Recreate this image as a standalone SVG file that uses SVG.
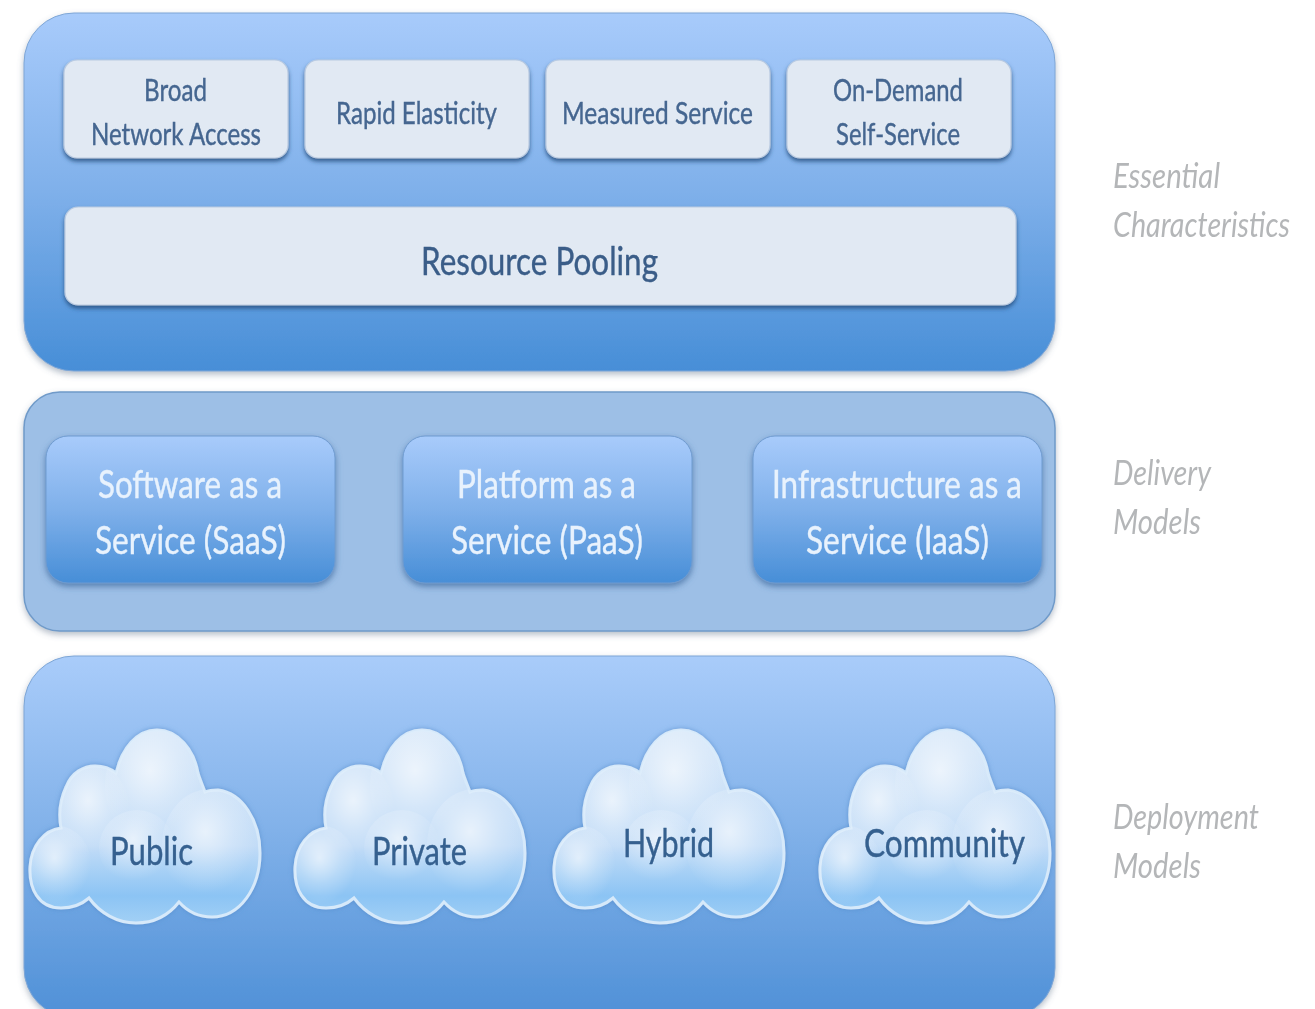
<svg xmlns="http://www.w3.org/2000/svg" xmlns:xlink="http://www.w3.org/1999/xlink" width="1315" height="1009" viewBox="0 0 1315 1009">
<style>
text{font-family:"Lato","Liberation Sans",sans-serif;filter:url(#soft)}
.small{font-size:31px;fill:#456690;stroke:#456690;stroke-width:.4}
.pool{font-size:38px;fill:#3a5d88;stroke:#3a5d88;stroke-width:.4}
.svc{font-size:39px;fill:#e8f2fd;stroke:#e8f2fd;stroke-width:.4}
.cl{font-size:39px;fill:#35608f;stroke:#35608f;stroke-width:.4}
.side{font-size:35px;font-style:italic;fill:#b4b6b8}
.card{fill:#e1e9f3;stroke:#b9cbe2;stroke-width:1.2;filter:url(#cardShadow)}
.svcbox{fill:url(#blue);stroke:#6f9bd0;stroke-width:1;filter:url(#svcShadow)}
.panel{filter:url(#panelShadow)}
</style>
<defs>
<linearGradient id="blue" x1="0" y1="0" x2="0" y2="1"><stop offset="0" stop-color="#a8cbfb"/><stop offset=".5" stop-color="#7fb0ea"/><stop offset="1" stop-color="#478ed7"/></linearGradient>
<linearGradient id="blue3" x1="0" y1="0" x2="0" y2="1"><stop offset="0" stop-color="#a9ccfa"/><stop offset=".45" stop-color="#84b3ea"/><stop offset="1" stop-color="#4f90d7"/></linearGradient>
<linearGradient id="cloudBody" x1="0" y1="0" x2="0" y2="1"><stop offset="0" stop-color="#d8e8f9"/><stop offset=".6" stop-color="#c2dcf7"/><stop offset=".86" stop-color="#8cc4f4"/><stop offset="1" stop-color="#a2d0f5"/></linearGradient>
<radialGradient id="lump" cx=".45" cy=".38" r=".55"><stop offset="0" stop-color="#fff" stop-opacity=".6"/><stop offset=".55" stop-color="#fff" stop-opacity=".22"/><stop offset="1" stop-color="#fff" stop-opacity="0"/></radialGradient>
<filter id="soft" x="-5%" y="-10%" width="110%" height="120%"><feGaussianBlur stdDeviation=".45"/></filter>
<filter id="panelShadow" x="-3%" y="-5%" width="106%" height="112%"><feDropShadow dx="0" dy="3" stdDeviation="3" flood-color="#5a6f88" flood-opacity=".45"/></filter>
<filter id="cardShadow" x="-5%" y="-10%" width="110%" height="125%"><feDropShadow dx="0" dy="3" stdDeviation="2" flood-color="#26507f" flood-opacity=".85"/></filter>
<filter id="svcShadow" x="-5%" y="-5%" width="110%" height="115%"><feDropShadow dx="0" dy="3" stdDeviation="3" flood-color="#38659a" flood-opacity=".7"/></filter>
<filter id="cloudShadow" x="-8%" y="-8%" width="116%" height="116%"><feDropShadow dx="0" dy="0" stdDeviation="2.5" flood-color="#4f88c8" flood-opacity=".7"/></filter>
<filter id="lumpBlur" x="-20%" y="-20%" width="140%" height="140%"><feGaussianBlur stdDeviation="1.5"/></filter>
<clipPath id="cloudClip"><path d="M61 908C38 908 29 888 30 867C31 846 44 830 61 828C58 812 60 800 66 787C72 772 84 766 95 766C104 766 111 769 116 773C122 748 137 730 157 730C178 730 194 750 198 773C200 780 203 786 205 792C210 790 213 790 218 790C242 793 260 820 260 853C260 888 240 917 212 917C198 917 187 911 179 902C168 916 153 923 136 923C117 923 100 913 89 898C81 905 71 908 61 908Z"/></clipPath>
<g id="cloud">
<path d="M61 908C38 908 29 888 30 867C31 846 44 830 61 828C58 812 60 800 66 787C72 772 84 766 95 766C104 766 111 769 116 773C122 748 137 730 157 730C178 730 194 750 198 773C200 780 203 786 205 792C210 790 213 790 218 790C242 793 260 820 260 853C260 888 240 917 212 917C198 917 187 911 179 902C168 916 153 923 136 923C117 923 100 913 89 898C81 905 71 908 61 908Z" fill="url(#cloudBody)" stroke="#d6e9fa" stroke-width="3" filter="url(#cloudShadow)"/>
<g clip-path="url(#cloudClip)">
<ellipse cx="155" cy="785" rx="50" ry="60" fill="url(#lump)"/>
<ellipse cx="92" cy="812" rx="38" ry="48" fill="url(#lump)"/>
<ellipse cx="58" cy="868" rx="34" ry="42" fill="url(#lump)"/>
<ellipse cx="210" cy="845" rx="48" ry="56" fill="url(#lump)"/>
<ellipse cx="137" cy="848" rx="38" ry="38" fill="url(#lump)"/>
</g>
</g>
</defs>
<rect width="1315" height="1009" fill="#ffffff"/>

<g id="panel-essential">
<rect class="panel" x="24" y="13" width="1031" height="358" rx="50" fill="url(#blue)" stroke="#7ea6d6" stroke-width="1"/>
</g>
<g id="node-broad-network-access">
<rect class="card" x="64" y="60" width="224" height="98" rx="13"/>
<text class="small" x="144" y="101" textLength="63" lengthAdjust="spacingAndGlyphs">Broad</text>
<text class="small" x="91" y="145" textLength="170" lengthAdjust="spacingAndGlyphs">Network Access</text>
</g>
<g id="node-rapid-elasticity">
<rect class="card" x="305" y="60" width="224" height="98" rx="13"/>
<text class="small" x="336" y="124" textLength="161" lengthAdjust="spacingAndGlyphs">Rapid Elasticity</text>
</g>
<g id="node-measured-service">
<rect class="card" x="546" y="60" width="224" height="98" rx="13"/>
<text class="small" x="562" y="124" textLength="191" lengthAdjust="spacingAndGlyphs">Measured Service</text>
</g>
<g id="node-on-demand">
<rect class="card" x="787" y="60" width="224" height="98" rx="13"/>
<text class="small" x="833" y="101" textLength="130" lengthAdjust="spacingAndGlyphs">On-Demand</text>
<text class="small" x="836" y="145" textLength="124" lengthAdjust="spacingAndGlyphs">Self-Service</text>
</g>
<g id="node-resource-pooling">
<rect class="card" x="65" y="207" width="951" height="98" rx="13"/>
<text class="pool" x="421" y="275" textLength="237" lengthAdjust="spacingAndGlyphs">Resource Pooling</text>
</g>

<g id="panel-delivery">
<rect class="panel" x="24" y="392" width="1031" height="239" rx="36" fill="#9dbfe6" stroke="#6f9ac9" stroke-width="1.5"/>
</g>
<g id="node-saas">
<rect class="svcbox" x="46" y="436" width="289" height="147" rx="22"/>
<text class="svc" x="98" y="498" textLength="184" lengthAdjust="spacingAndGlyphs">Software as a</text>
<text class="svc" x="95" y="554" textLength="191" lengthAdjust="spacingAndGlyphs">Service (SaaS)</text>
</g>
<g id="node-paas">
<rect class="svcbox" x="403" y="436" width="289" height="147" rx="22"/>
<text class="svc" x="457" y="498" textLength="179" lengthAdjust="spacingAndGlyphs">Platform as a</text>
<text class="svc" x="451" y="554" textLength="192" lengthAdjust="spacingAndGlyphs">Service (PaaS)</text>
</g>
<g id="node-iaas">
<rect class="svcbox" x="753" y="436" width="289" height="147" rx="22"/>
<text class="svc" x="772" y="498" textLength="250" lengthAdjust="spacingAndGlyphs">Infrastructure as a</text>
<text class="svc" x="806" y="554" textLength="183" lengthAdjust="spacingAndGlyphs">Service (IaaS)</text>
</g>

<g id="panel-deployment">
<rect class="panel" x="24" y="656" width="1031" height="362" rx="50" fill="url(#blue3)" stroke="#7ea6d6" stroke-width="1"/>
</g>
<g id="node-public">
<use href="#cloud" xlink:href="#cloud"/>
<text class="cl" x="110" y="865" textLength="83" lengthAdjust="spacingAndGlyphs">Public</text>
</g>
<g id="node-private">
<use href="#cloud" xlink:href="#cloud" x="265"/>
<text class="cl" x="372" y="865" textLength="95" lengthAdjust="spacingAndGlyphs">Private</text>
</g>
<g id="node-hybrid">
<use href="#cloud" xlink:href="#cloud" x="524"/>
<text class="cl" x="623" y="857" textLength="91" lengthAdjust="spacingAndGlyphs">Hybrid</text>
</g>
<g id="node-community">
<use href="#cloud" xlink:href="#cloud" x="790"/>
<text class="cl" x="864" y="857" textLength="161" lengthAdjust="spacingAndGlyphs">Community</text>
</g>

<g id="labels">
<text class="side" x="1113" y="188" textLength="107" lengthAdjust="spacingAndGlyphs">Essential</text>
<text class="side" style="font-size:29px" transform="translate(1113 237) scale(1 1.2)" textLength="177" lengthAdjust="spacingAndGlyphs">Characteristics</text>
<text class="side" x="1113" y="485" textLength="98" lengthAdjust="spacingAndGlyphs">Delivery</text>
<text class="side" x="1113" y="534" textLength="88" lengthAdjust="spacingAndGlyphs">Models</text>
<text class="side" x="1113" y="829" textLength="146" lengthAdjust="spacingAndGlyphs">Deployment</text>
<text class="side" x="1113" y="878" textLength="88" lengthAdjust="spacingAndGlyphs">Models</text>
</g>
</svg>
